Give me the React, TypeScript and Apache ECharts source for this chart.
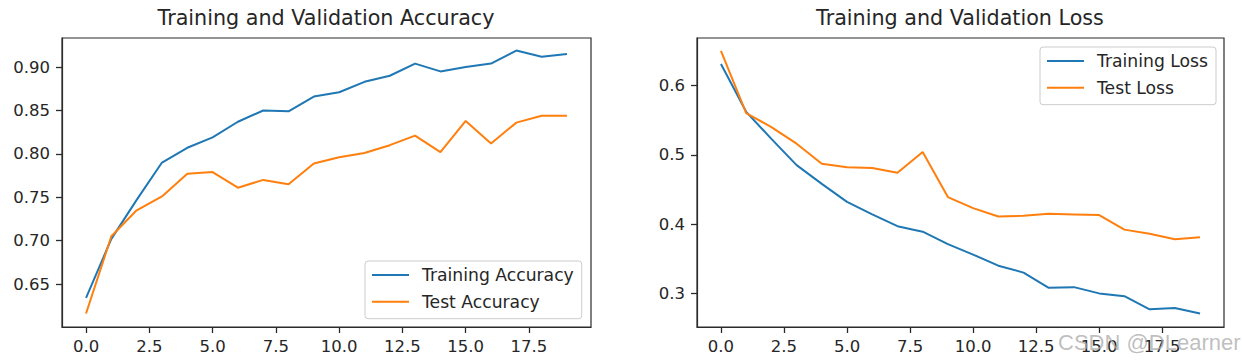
import React, { useEffect, useRef } from "react";
import * as echarts from "echarts";

const epochs = [0, 1, 2, 3, 4, 5, 6, 7, 8, 9, 10, 11, 12, 13, 14, 15, 16, 17, 18, 19];
const trainAcc = [0.634, 0.702, 0.747, 0.79, 0.807, 0.819, 0.837, 0.85, 0.849, 0.866, 0.871, 0.883, 0.89, 0.904, 0.895, 0.9, 0.904, 0.919, 0.912, 0.915];
const testAcc = [0.616, 0.705, 0.735, 0.751, 0.777, 0.779, 0.761, 0.77, 0.765, 0.789, 0.796, 0.801, 0.81, 0.821, 0.802, 0.838, 0.812, 0.836, 0.844, 0.844];
const trainLoss = [0.631, 0.562, 0.523, 0.485, 0.458, 0.432, 0.414, 0.397, 0.389, 0.371, 0.356, 0.34, 0.33, 0.308, 0.309, 0.3, 0.296, 0.277, 0.279, 0.271];
const testLoss = [0.65, 0.56, 0.54, 0.516, 0.487, 0.482, 0.481, 0.474, 0.504, 0.439, 0.423, 0.411, 0.412, 0.415, 0.414, 0.413, 0.392, 0.386, 0.378, 0.381];

const xTicks = [0, 2.5, 5, 7.5, 10, 12.5, 15, 17.5];
const accTicks = [0.65, 0.7, 0.75, 0.8, 0.85, 0.9];
const lossTicks = [0.3, 0.4, 0.5, 0.6];

const titles = ["Training and Validation Accuracy", "Training and Validation Loss"];
const names = ["Training Accuracy", "Test Accuracy", "Training Loss", "Test Loss"];
const watermark = "CSDN @DLearner";

const FONT = "DejaVu Sans";
const TEXT = "#262626";
const FRAME = "#2b2b2b";
const BLUE = "#1f77b4";
const ORANGE = "#ff7f0e";

const pairs = (ys: number[]) => epochs.map((e, i) => [e, ys[i]]);

function xAxis(gridIndex: number) {
  return {
    type: "value",
    gridIndex,
    position: "bottom",
    min: -0.95,
    max: 19.95,
    axisLine: { show: true, onZero: false, lineStyle: { color: FRAME, width: 1.2 } },
    splitLine: { show: false },
    axisTick: { show: true, length: 6, customValues: xTicks, lineStyle: { color: FRAME, width: 1.3 } },
    axisLabel: {
      customValues: xTicks,
      formatter: (v: number) => v.toFixed(1),
      fontFamily: FONT,
      fontSize: 16.5,
      color: TEXT,
      margin: 11,
    },
  };
}

function yAxis(gridIndex: number, min: number, max: number, ticks: number[], digits: number) {
  return {
    type: "value",
    gridIndex,
    position: "left",
    min,
    max,
    axisLine: { show: true, onZero: false, lineStyle: { color: FRAME, width: 1.2 } },
    splitLine: { show: false },
    axisTick: { show: true, length: 6, customValues: ticks, lineStyle: { color: FRAME, width: 1.3 } },
    axisLabel: {
      customValues: ticks,
      formatter: (v: number) => v.toFixed(digits),
      fontFamily: FONT,
      fontSize: 16.5,
      color: TEXT,
      margin: 12,
    },
  };
}

function legend(data: string[], pos: any) {
  return {
    orient: "vertical",
    ...pos,
    data,
    icon: "rect",
    itemWidth: 37,
    itemHeight: 2,
    itemGap: 6.7,
    padding: [4, 8, 7, 7],
    backgroundColor: "rgba(255,255,255,0.8)",
    borderColor: "#cccccc",
    borderWidth: 1,
    borderRadius: 3,
    textStyle: {
      fontFamily: FONT,
      fontSize: 17.2,
      color: TEXT,
      lineHeight: 20,
      padding: [0, 0, 0, 8],
    },
  };
}

function line(name: string, xi: number, ys: number[], color: string) {
  return {
    type: "line",
    name,
    xAxisIndex: xi,
    yAxisIndex: xi,
    data: pairs(ys),
    symbol: "none",
    color,
    lineStyle: { color, width: 2 },
  };
}

export default function App() {
  const ref = useRef<HTMLDivElement>(null);
  useEffect(() => {
    document.body.style.margin = "0";
    if (!ref.current) return;
    const chart = echarts.init(ref.current, undefined, { renderer: "svg" });
    chart.setOption({
      animation: false,
      backgroundColor: "#ffffff",
      title: [
        {
          text: titles[0],
          left: 326,
          top: 7,
          padding: 0,
          textAlign: "center",
          textStyle: { fontFamily: FONT, fontSize: 20.7, fontWeight: "normal", color: TEXT },
        },
        {
          text: titles[1],
          left: 960,
          top: 7,
          padding: 0,
          textAlign: "center",
          textStyle: { fontFamily: FONT, fontSize: 20.7, fontWeight: "normal", color: TEXT },
        },
      ],
      grid: [
        { left: 62, top: 38, width: 529, height: 289, show: true, borderColor: FRAME, borderWidth: 1.2, backgroundColor: "transparent" },
        { left: 697, top: 38, width: 527, height: 289, show: true, borderColor: FRAME, borderWidth: 1.2, backgroundColor: "transparent" },
      ],
      xAxis: [xAxis(0), xAxis(1)],
      yAxis: [yAxis(0, 0.6005, 0.9335, accTicks, 2), yAxis(1, 0.2515, 0.6685, lossTicks, 1)],
      legend: [
        legend([names[0], names[1]], { left: 365, top: 261 }),
        legend([names[2], names[3]], { right: 26, top: 47 }),
      ],
      series: [
        line(names[0], 0, trainAcc, BLUE),
        line(names[1], 0, testAcc, ORANGE),
        line(names[2], 1, trainLoss, BLUE),
        line(names[3], 1, testLoss, ORANGE),
      ],
      graphic: [
        {
          type: "text",
          left: 1058,
          top: 331,
          z: 100,
          style: {
            text: watermark,
            fontFamily: "Liberation Sans",
            fontSize: 22,
            fill: "rgba(170,170,170,0.75)",
          },
        },
      ],
    });
    return () => chart.dispose();
  }, []);
  return <div ref={ref} style={{ width: 1242, height: 361 }} />;
}
